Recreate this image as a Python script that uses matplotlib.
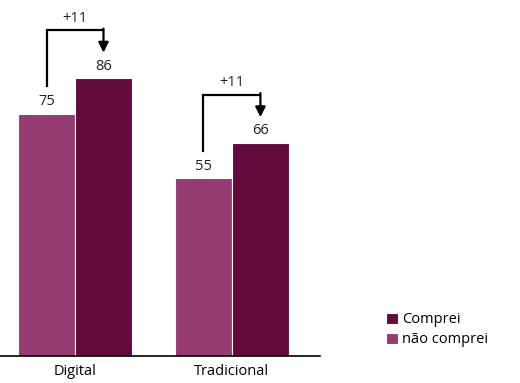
import matplotlib.pyplot as plt
import numpy as np

categories = ["Digital", "Tradicional"]
nao_comprei = [75, 55]
comprei = [86, 66]
deltas = ["+11", "+11"]

light = "#953B72"
dark = "#630A3D"

plt.rcParams['font.family'] = ['Open Sans', 'DejaVu Sans']

fig = plt.figure(figsize=(5.2, 3.83), dpi=100)
ax = fig.add_axes([0.0, 0.0705, 0.615, 0.9295])

x = np.arange(len(categories))
w = 0.363
ax.bar(x - w / 2, nao_comprei, w, color=light, edgecolor="white", linewidth=0.8, label="não comprei")
ax.bar(x + w / 2, comprei, w, color=dark, edgecolor="white", linewidth=0.8, label="Comprei")

for i in range(len(categories)):
    ax.text(x[i] - w / 2, nao_comprei[i] + 1.5, str(nao_comprei[i]), ha="center", va="bottom",
            fontsize=10.5, color="#222222")
    ax.text(x[i] + w / 2, comprei[i] + 1.5, str(comprei[i]), ha="center", va="bottom",
            fontsize=10.5, color="#222222")
    top = comprei[i] + 15
    start = nao_comprei[i] + 8.5
    tip = comprei[i] + 8
    ax.plot([x[i] - w / 2, x[i] - w / 2, x[i] + w / 2], [start, top, top],
            color="black", linewidth=1.6, solid_joinstyle="miter")
    ax.annotate("", xy=(x[i] + w / 2, tip), xytext=(x[i] + w / 2, top + 0.45),
                arrowprops=dict(arrowstyle="-|>,head_length=0.6,head_width=0.3",
                                color="black", lw=1.6, shrinkA=0, shrinkB=0))
    ax.text(x[i], top + 1.3, deltas[i], ha="center", va="bottom", fontsize=10.5, color="#222222")

ax.set_xlim(-0.478, 1.56)
ax.set_ylim(0, 110.3)
ax.set_xticks(x)
ax.set_xticklabels(categories, fontsize=10.5)
ax.tick_params(axis="x", length=0, pad=6)
ax.set_yticks([])
for s in ["top", "left", "right"]:
    ax.spines[s].set_visible(False)
ax.spines["bottom"].set_linewidth(1.2)

handles, labels = ax.get_legend_handles_labels()
fig.legend(handles[::-1], labels[::-1], loc="upper left", bbox_to_anchor=(0.732, 0.2),
           frameon=False, fontsize=10.5, handlelength=0.8, handleheight=0.8,
           handletextpad=0.25, labelspacing=0.35, borderaxespad=0)

fig.savefig("out.png", dpi=100)
